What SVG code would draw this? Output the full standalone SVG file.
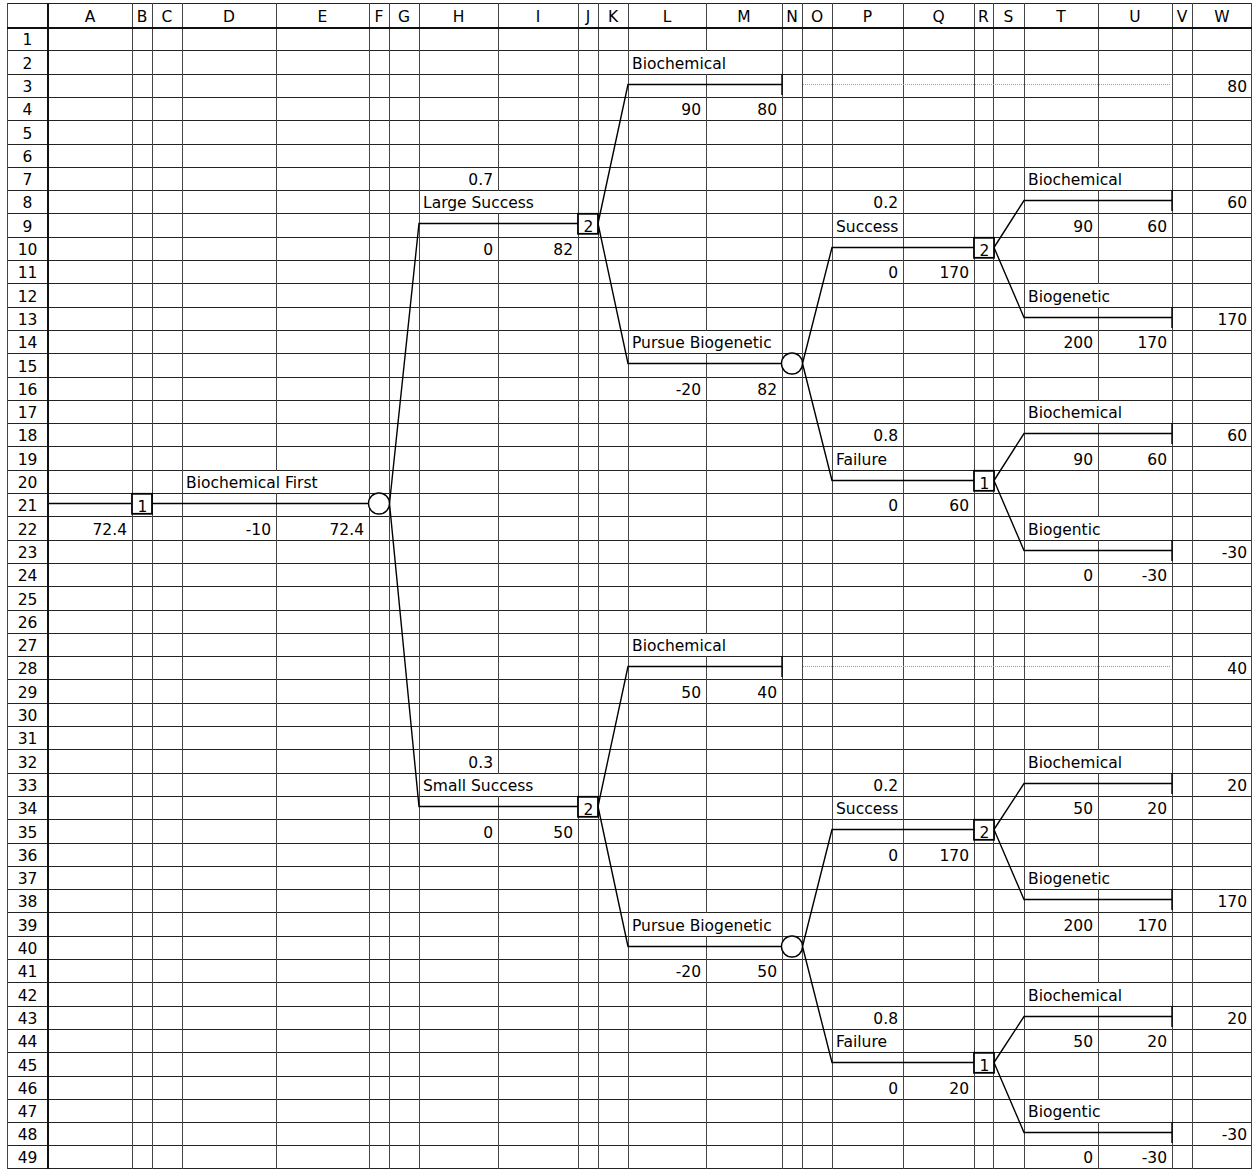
<svg xmlns="http://www.w3.org/2000/svg" width="1256" height="1169" viewBox="0 0 1256 1169">
<style>
.t{font-family:"DejaVu Sans","Liberation Sans",sans-serif;font-size:15.5px;fill:#000}
.r{text-anchor:end}
.c{text-anchor:middle}
.hl{stroke:#222;stroke-width:1;fill:none;shape-rendering:crispEdges}
.vl{stroke:#444;stroke-width:1;fill:none;shape-rendering:crispEdges}
.gap{fill:#fff}
.edge{stroke:#000;stroke-width:1.4;fill:none}
.dot{stroke:#999;stroke-width:1;stroke-dasharray:1 1;fill:none}
.sq{fill:#fff;stroke:#000;stroke-width:1.8}
.ci{fill:#fff;stroke:#000;stroke-width:1.4}
</style>
<rect width="1256" height="1169" fill="#fff"/>
<g id="grid">
<path class="hl" d="M7,50.5H1252M7,74.5H1252M7,97.5H1252M7,120.5H1252M7,144.5H1252M7,167.5H1252M7,190.5H1252M7,213.5H1252M7,237.5H1252M7,260.5H1252M7,283.5H1252M7,307.5H1252M7,330.5H1252M7,353.5H1252M7,377.5H1252M7,400.5H1252M7,423.5H1252M7,446.5H1252M7,470.5H1252M7,493.5H1252M7,516.5H1252M7,540.5H1252M7,563.5H1252M7,586.5H1252M7,610.5H1252M7,633.5H1252M7,656.5H1252M7,679.5H1252M7,703.5H1252M7,726.5H1252M7,749.5H1252M7,773.5H1252M7,796.5H1252M7,819.5H1252M7,843.5H1252M7,866.5H1252M7,889.5H1252M7,912.5H1252M7,936.5H1252M7,959.5H1252M7,982.5H1252M7,1006.5H1252M7,1029.5H1252M7,1052.5H1252M7,1076.5H1252M7,1099.5H1252M7,1122.5H1252M7,1145.5H1252M7,1168.5H1252M7,3.5H1252"/>
<path class="vl" d="M7.5,3V1169M132.5,3V1169M152.5,3V1169M182.5,3V1169M276.5,3V1169M369.5,3V1169M389.5,3V1169M419.5,3V1169M498.5,3V1169M578.5,3V1169M598.5,3V1169M628.5,3V1169M706.5,3V1169M782.5,3V1169M802.5,3V1169M832.5,3V1169M903.5,3V1169M974.5,3V1169M993.5,3V1169M1024.5,3V1169M1098.5,3V1169M1172.5,3V1169M1192.5,3V1169M1251.5,3V1169"/>
<path d="M7,28H1252" stroke="#111" stroke-width="2" shape-rendering="crispEdges"/>
<path d="M48,3V1169" stroke="#111" stroke-width="2" shape-rendering="crispEdges"/>
<rect class="gap" x="275.5" y="471" width="2" height="22"/>
<rect class="gap" x="497.5" y="191" width="2" height="22"/>
<rect class="gap" x="497.5" y="774" width="2" height="22"/>
<rect class="gap" x="705.5" y="51" width="2" height="23"/>
<rect class="gap" x="705.5" y="331" width="2" height="22"/>
<rect class="gap" x="705.5" y="634" width="2" height="22"/>
<rect class="gap" x="705.5" y="913" width="2" height="23"/>
<rect class="gap" x="1097.5" y="168" width="2" height="22"/>
<rect class="gap" x="1097.5" y="284" width="2" height="23"/>
<rect class="gap" x="1097.5" y="401" width="2" height="22"/>
<rect class="gap" x="1097.5" y="517" width="2" height="23"/>
<rect class="gap" x="1097.5" y="750" width="2" height="23"/>
<rect class="gap" x="1097.5" y="867" width="2" height="22"/>
<rect class="gap" x="1097.5" y="983" width="2" height="23"/>
<rect class="gap" x="1097.5" y="1100" width="2" height="22"/>
</g>
<g id="column-headers" class="t c">
<text x="90" y="22">A</text><text x="142" y="22">B</text><text x="167" y="22">C</text><text x="229" y="22">D</text><text x="322.5" y="22">E</text><text x="379" y="22">F</text><text x="404" y="22">G</text><text x="458.5" y="22">H</text><text x="538" y="22">I</text><text x="588" y="22">J</text><text x="613" y="22">K</text><text x="667" y="22">L</text><text x="744" y="22">M</text><text x="792" y="22">N</text><text x="817" y="22">O</text><text x="867.5" y="22">P</text><text x="938.5" y="22">Q</text><text x="983.5" y="22">R</text><text x="1008.5" y="22">S</text><text x="1061" y="22">T</text><text x="1135" y="22">U</text><text x="1182" y="22">V</text><text x="1222" y="22">W</text>
</g>
<g id="row-headers" class="t c">
<text x="27.5" y="45">1</text><text x="27.5" y="69">2</text><text x="27.5" y="92">3</text><text x="27.5" y="115">4</text><text x="27.5" y="139">5</text><text x="27.5" y="162">6</text><text x="27.5" y="185">7</text><text x="27.5" y="208">8</text><text x="27.5" y="232">9</text><text x="27.5" y="255">10</text><text x="27.5" y="278">11</text><text x="27.5" y="302">12</text><text x="27.5" y="325">13</text><text x="27.5" y="348">14</text><text x="27.5" y="372">15</text><text x="27.5" y="395">16</text><text x="27.5" y="418">17</text><text x="27.5" y="441">18</text><text x="27.5" y="465">19</text><text x="27.5" y="488">20</text><text x="27.5" y="511">21</text><text x="27.5" y="535">22</text><text x="27.5" y="558">23</text><text x="27.5" y="581">24</text><text x="27.5" y="605">25</text><text x="27.5" y="628">26</text><text x="27.5" y="651">27</text><text x="27.5" y="674">28</text><text x="27.5" y="698">29</text><text x="27.5" y="721">30</text><text x="27.5" y="744">31</text><text x="27.5" y="768">32</text><text x="27.5" y="791">33</text><text x="27.5" y="814">34</text><text x="27.5" y="838">35</text><text x="27.5" y="861">36</text><text x="27.5" y="884">37</text><text x="27.5" y="907">38</text><text x="27.5" y="931">39</text><text x="27.5" y="954">40</text><text x="27.5" y="977">41</text><text x="27.5" y="1001">42</text><text x="27.5" y="1024">43</text><text x="27.5" y="1047">44</text><text x="27.5" y="1071">45</text><text x="27.5" y="1094">46</text><text x="27.5" y="1117">47</text><text x="27.5" y="1140">48</text><text x="27.5" y="1163">49</text>
</g>
<g id="connectors">
<path class="edge" d="M49,503.5H131M152,503.5H368.5"/>
<path class="edge" d="M389.5,503.5L419,223.5H578M389.5,503.5L419,806.5H578"/>
<path class="edge" d="M598,223.5L628,84.5H782M782,74V95M598,223.5L628,363.5H781.5"/>
<path class="edge" d="M802.5,363.5L832,247.5H974M802.5,363.5L832,480.5H974"/>
<path class="edge" d="M994,247.5L1024,200.5H1172M1172,190V211M994,247.5L1024,317.5H1172M1172,307V328"/>
<path class="edge" d="M994,480.5L1024,433.5H1172M1172,423V444M994,480.5L1024,550.5H1172M1172,540V561"/>
<path class="edge" d="M598,806.5L628,666.5H782M782,656V677M598,806.5L628,946.5H781.5"/>
<path class="edge" d="M802.5,946.5L832,829.5H974M802.5,946.5L832,1062.5H974"/>
<path class="edge" d="M994,829.5L1024,783.5H1172M1172,773V794M994,829.5L1024,899.5H1172M1172,889V910"/>
<path class="edge" d="M994,1062.5L1024,1016.5H1172M1172,1006V1027M994,1062.5L1024,1132.5H1172M1172,1122V1143"/>
<path class="dot" d="M803,84.5H1170M803,666.5H1170"/>
</g>
<g id="node-B21"><rect class="sq" x="132" y="493.8" width="20" height="20"/><text class="t c" x="142.5" y="512">1</text></g>
<g id="node-F21"><circle class="ci" cx="379" cy="503.5" r="10.5"/></g>
<g id="node-J9"><rect class="sq" x="578" y="213.8" width="20" height="20"/><text class="t c" x="588.5" y="232">2</text></g>
<g id="node-J34"><rect class="sq" x="578" y="796.8" width="20" height="20"/><text class="t c" x="588.5" y="815">2</text></g>
<g id="node-N15"><circle class="ci" cx="792" cy="363.5" r="10.5"/></g>
<g id="node-N40"><circle class="ci" cx="792" cy="946.5" r="10.5"/></g>
<g id="node-R10"><rect class="sq" x="974" y="237.8" width="20" height="20"/><text class="t c" x="984.5" y="256">2</text></g>
<g id="node-R20"><rect class="sq" x="974" y="470.8" width="20" height="20"/><text class="t c" x="984.5" y="489">1</text></g>
<g id="node-R35"><rect class="sq" x="974" y="819.8" width="20" height="20"/><text class="t c" x="984.5" y="838">2</text></g>
<g id="node-R45"><rect class="sq" x="974" y="1052.8" width="20" height="20"/><text class="t c" x="984.5" y="1071">1</text></g>
<g id="labels" class="t">
<text x="186" y="488">Biochemical First</text>
<text x="423" y="208">Large Success</text>
<text x="423" y="791">Small Success</text>
<text x="632" y="69">Biochemical</text>
<text x="632" y="348">Pursue Biogenetic</text>
<text x="632" y="651">Biochemical</text>
<text x="632" y="931">Pursue Biogenetic</text>
<text x="836" y="232">Success</text>
<text x="836" y="465">Failure</text>
<text x="836" y="814">Success</text>
<text x="836" y="1047">Failure</text>
<text x="1028" y="185">Biochemical</text>
<text x="1028" y="302">Biogenetic</text>
<text x="1028" y="418">Biochemical</text>
<text x="1028" y="535">Biogentic</text>
<text x="1028" y="768">Biochemical</text>
<text x="1028" y="884">Biogenetic</text>
<text x="1028" y="1001">Biochemical</text>
<text x="1028" y="1117">Biogentic</text>
</g>
<g id="values" class="t r">
<text x="127" y="535">72.4</text><text x="271" y="535">-10</text><text x="364" y="535">72.4</text>
<text x="493" y="185">0.7</text><text x="493" y="255">0</text><text x="573" y="255">82</text>
<text x="701" y="115">90</text><text x="777" y="115">80</text><text x="1247" y="92">80</text>
<text x="701" y="395">-20</text><text x="777" y="395">82</text>
<text x="898" y="208">0.2</text><text x="898" y="278">0</text><text x="969" y="278">170</text>
<text x="1093" y="232">90</text><text x="1167" y="232">60</text><text x="1247" y="208">60</text>
<text x="1093" y="348">200</text><text x="1167" y="348">170</text><text x="1247" y="325">170</text>
<text x="898" y="441">0.8</text><text x="898" y="511">0</text><text x="969" y="511">60</text>
<text x="1093" y="465">90</text><text x="1167" y="465">60</text><text x="1247" y="441">60</text>
<text x="1093" y="581">0</text><text x="1167" y="581">-30</text><text x="1247" y="558">-30</text>
<text x="493" y="768">0.3</text><text x="493" y="838">0</text><text x="573" y="838">50</text>
<text x="701" y="698">50</text><text x="777" y="698">40</text><text x="1247" y="674">40</text>
<text x="701" y="977">-20</text><text x="777" y="977">50</text>
<text x="898" y="791">0.2</text><text x="898" y="861">0</text><text x="969" y="861">170</text>
<text x="1093" y="814">50</text><text x="1167" y="814">20</text><text x="1247" y="791">20</text>
<text x="1093" y="931">200</text><text x="1167" y="931">170</text><text x="1247" y="907">170</text>
<text x="898" y="1024">0.8</text><text x="898" y="1094">0</text><text x="969" y="1094">20</text>
<text x="1093" y="1047">50</text><text x="1167" y="1047">20</text><text x="1247" y="1024">20</text>
<text x="1093" y="1163">0</text><text x="1167" y="1163">-30</text><text x="1247" y="1140">-30</text>
</g>
</svg>
